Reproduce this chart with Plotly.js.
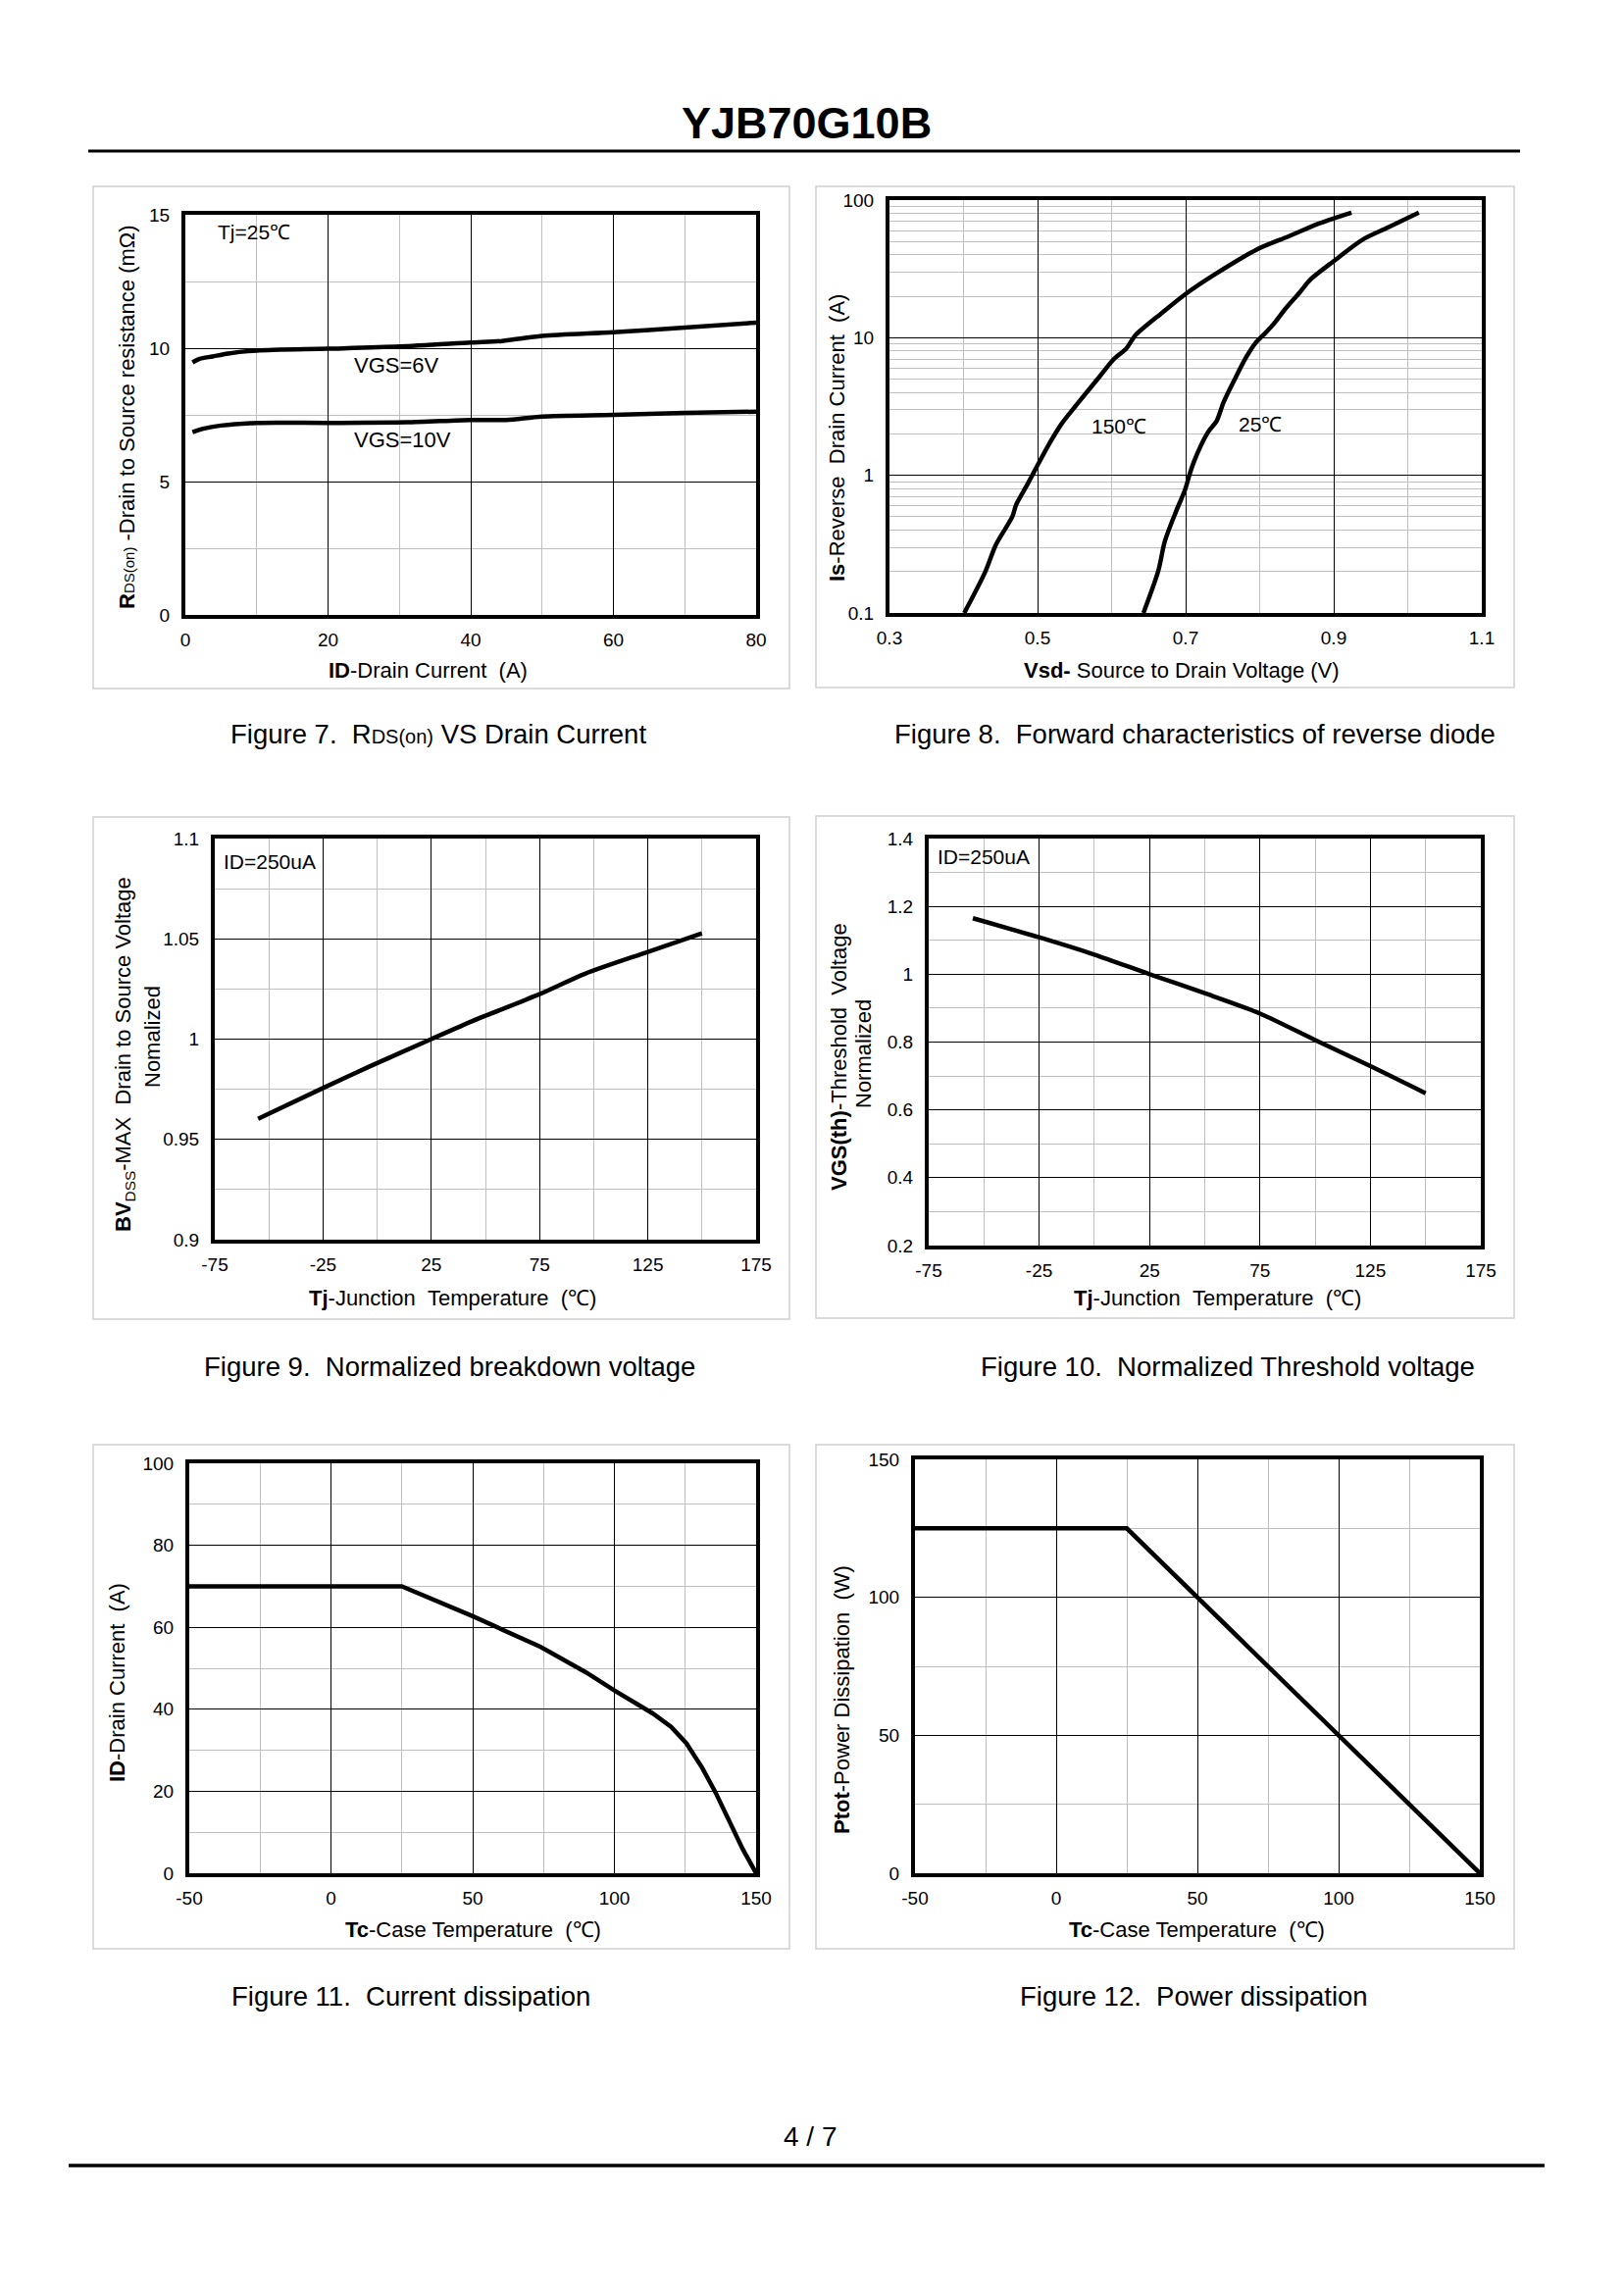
<!DOCTYPE html>
<html>
<head>
<meta charset="utf-8">
<script src="https://cdn.plot.ly/plotly-3.0.1.min.js"></script>
<style>
html,body{margin:0;padding:0;background:#fff;}
#chart{width:1656px;height:2339px;}
</style>
</head>
<body>
<div id="chart"></div>
<script>
// ---------- DATA ----------
// Figure 7: RDS(on) vs drain current
const f7_id_vgs6 = [1, 2, 3.8, 6, 10, 20, 30, 40, 44.4, 50, 60, 70, 80];
const f7_r_vgs6  = [9.47, 9.6, 9.69, 9.8, 9.91, 9.98, 10.06, 10.21, 10.27, 10.46, 10.6, 10.77, 10.96];
const f7_id_vgs10 = [1, 2.5, 5, 10, 20, 31, 40, 45, 50, 60, 70, 80];
const f7_r_vgs10  = [6.85, 6.98, 7.1, 7.2, 7.2, 7.22, 7.31, 7.31, 7.44, 7.5, 7.57, 7.62];
const f7_xticks = [0, 20, 40, 60, 80];
const f7_xminor = [10, 30, 50, 70];
const f7_yticks = [0, 5, 10, 15];
const f7_yminor = [2.5, 7.5, 12.5];

// Figure 8: forward characteristics of reverse diode
const f8_v_150 = [0.401,0.429,0.444,0.466,0.471,0.487,0.502,0.517,0.532,0.553,0.584,0.602,0.62,0.632,0.669,0.700,0.736,0.796,0.839,0.881,0.924];
const f8_i_150 = [0.1,0.197,0.315,0.502,0.61,0.873,1.24,1.74,2.35,3.27,5.24,6.9,8.36,10.4,15.3,20.8,28.1,43.7,54.5,67.9,81.1];
const f8_v_25 = [0.643,0.663,0.672,0.687,0.699,0.705,0.711,0.730,0.742,0.751,0.766,0.781,0.794,0.809,0.821,0.833,0.854,0.869,0.9,0.939,0.973,1.015];
const f8_i_25 = [0.1,0.202,0.333,0.546,0.78,1.0,1.25,2.05,2.49,3.37,4.95,7.1,9.1,11.0,13.0,15.8,21.3,26.6,36.0,51.6,63.2,81.1];
const f8_xticks = [0.3, 0.5, 0.7, 0.9, 1.1];
const f8_xlabels = ['0.3', '0.5', '0.7', '0.9', '1.1'];
const f8_xminor = [0.4, 0.6, 0.8, 1.0];
const f8_yticks = [0.1, 1, 10, 100];
const f8_ylabels = ['0.1', '1', '10', '100'];
const f8_yminor = [0.2,0.3,0.4,0.5,0.6,0.7,0.8,0.9,2,3,4,5,6,7,8,9,20,30,40,50,60,70,80,90];

// Figure 9: normalized breakdown voltage
const f9_t = [-55, -25, -3, 25, 44, 75, 96, 125, 150];
const f9_bv = [0.9603, 0.9756, 0.9866, 1.0, 1.009, 1.0224, 1.0326, 1.0435, 1.0528];
const tj_xticks = [-75, -25, 25, 75, 125, 175];
const tj_xminor = [-50, 0, 50, 100, 150];
const f9_yticks = [0.9, 0.95, 1, 1.05, 1.1];
const f9_ylabels = ['0.9', '0.95', '1', '1.05', '1.1'];
const f9_yminor = [0.925, 0.975, 1.025, 1.075];

// Figure 10: normalized threshold voltage
const f10_t = [-55, -25, 0, 25, 50, 75, 100, 125, 150];
const f10_vth = [1.165, 1.109, 1.058, 1.0, 0.944, 0.884, 0.806, 0.729, 0.649];
const f10_yticks = [0.2, 0.4, 0.6, 0.8, 1, 1.2, 1.4];
const f10_ylabels = ['0.2', '0.4', '0.6', '0.8', '1', '1.2', '1.4'];
const f10_yminor = [0.3, 0.5, 0.7, 0.9, 1.1, 1.3];

// Figure 11: current dissipation
const f11_t = [-50, 25, 50, 74, 90, 100, 113.5, 120, 125.4, 131, 135.7, 140.5, 145.2, 150];
const f11_id = [70, 70, 62.7, 55.2, 49, 44.6, 39, 35.7, 31.7, 25.7, 19.7, 12.9, 6.0, 0];
const tc_xticks = [-50, 0, 50, 100, 150];
const tc_xminor = [-25, 25, 75, 125];
const f11_yticks = [0, 20, 40, 60, 80, 100];
const f11_yminor = [10, 30, 50, 70, 90];

// Figure 12: power dissipation
const f12_t = [-50, 25, 150];
const f12_p = [125, 125, 0];
const f12_yticks = [0, 50, 100, 150];
const f12_yminor = [25, 75, 125];

// ---------- LAYOUT HELPERS ----------
const W = 1656, H = 2339;
const FONT = '"Liberation Sans", Arial, Helvetica, sans-serif';
const TICKSIZE = 19;

// plot frames in page pixels: [left, top, right, bottom]
const frames = {
  1: [187, 217, 773, 629],
  2: [905, 202, 1513, 627],
  3: [217, 853, 773, 1266],
  4: [945, 853, 1512, 1272],
  5: [191, 1490, 773, 1912],
  6: [931, 1486, 1511, 1912]
};

function axisBase(tv, tt, mv, standoff) {
  return {
    tickmode: 'array', tickvals: tv, ticktext: tt,
    showgrid: true, gridcolor: '#000000', gridwidth: 1,
    showline: true, mirror: true, linecolor: '#000000', linewidth: 4,
    zeroline: false, ticks: '', fixedrange: true,
    tickfont: {family: FONT, size: TICKSIZE, color: '#000'},
    ticklabelstandoff: standoff,
    minor: {tickmode: 'array', tickvals: mv, showgrid: true, gridcolor: '#c0c0c0', gridwidth: 1, ticks: ''}
  };
}
function xAxis(n, range, tv, tt, mv, extra) {
  const f = frames[n];
  return Object.assign(axisBase(tv, tt || tv.map(String), mv, 5), {
    domain: [(f[0] + 2) / W, (f[2] - 2) / W], range: range, anchor: 'y' + (n === 1 ? '' : n)
  }, extra || {});
}
function yAxis(n, range, tv, tt, mv, extra) {
  const f = frames[n];
  return Object.assign(axisBase(tv, tt || tv.map(String), mv, 8), {
    domain: [1 - (f[3] - 2) / H, 1 - (f[1] + 2) / H], range: range, anchor: 'x' + (n === 1 ? '' : n)
  }, extra || {});
}
function pa(text, xpx, ypx, size, opts) {
  return Object.assign({
    text: text, xref: 'paper', yref: 'paper', x: xpx / W, y: 1 - ypx / H,
    xanchor: 'center', yanchor: 'middle', showarrow: false,
    font: {family: FONT, size: size, color: '#000'}
  }, opts || {});
}
function da(text, n, x, y, size, xanchor) {
  const s = n === 1 ? '' : n;
  return {text: text, xref: 'x' + s, yref: 'y' + s, x: x, y: y, xanchor: xanchor || 'left', yanchor: 'middle',
          showarrow: false, font: {family: FONT, size: size, color: '#000'}};
}
function curve(x, y, n, smooth) {
  const s = n === 1 ? '' : n;
  const ln = {color: '#000', width: 4.5};
  if (smooth) { ln.shape = 'spline'; ln.smoothing = 0.8; }
  return {x: x, y: y, xaxis: 'x' + s, yaxis: 'y' + s, type: 'scatter', mode: 'lines',
          line: ln, hoverinfo: 'skip', showlegend: false};
}
function box(x0, y0, x1, y1) {
  return {type: 'rect', xref: 'paper', yref: 'paper', x0: x0 / W, x1: x1 / W, y0: 1 - y0 / H, y1: 1 - y1 / H,
          line: {color: '#d0d0d0', width: 1.5}, fillcolor: 'rgba(0,0,0,0)', layer: 'below'};
}
function hline(x0, x1, y, w) {
  return {type: 'line', xref: 'paper', yref: 'paper', x0: x0 / W, x1: x1 / W, y0: 1 - y / H, y1: 1 - y / H,
          line: {color: '#000', width: w}};
}

const data = [
  curve(f7_id_vgs6, f7_r_vgs6, 1, true),
  curve(f7_id_vgs10, f7_r_vgs10, 1, true),
  curve(f8_v_150, f8_i_150, 2, true),
  curve(f8_v_25, f8_i_25, 2, true),
  curve(f9_t, f9_bv, 3, true),
  curve(f10_t, f10_vth, 4, true),
  curve(f11_t, f11_id, 5, false),
  curve(f12_t, f12_p, 6, false)
];

const NB = '\u00a0';
const CAP = 27.5;
const annotations = [
  // page title & number
  pa('<b>YJB70G10B</b>', 822, 125, 45),
  pa('4 / 7', 826, 2178, 28),
  // in-plot labels
  da('Tj=25℃', 1, 4.2, 14.34, 21),
  da('VGS=6V', 1, 23.4, 9.35, 22),
  da('VGS=10V', 1, 23.4, 6.58, 22),
  da('150℃', 2, 0.6105, Math.log10(2.26), 21, 'center'),
  da('25℃', 2, 0.801, Math.log10(2.36), 21, 'center'),
  da('ID=250uA', 3, -71.9, 1.0884, 21),
  da('ID=250uA', 4, -71.9, 1.3456, 21),
  // x axis titles
  pa('<b>ID</b>-Drain Current' + NB + NB + '(A)', 436, 684, 22),
  pa('<b>Vsd-</b> Source to Drain Voltage (V)', 1205, 683, 22),
  pa('<b>Tj</b>-Junction' + NB + NB + 'Temperature' + NB + NB + '(℃)', 461, 1323, 22),
  pa('<b>Tj</b>-Junction' + NB + NB + 'Temperature' + NB + NB + '(℃)', 1241, 1323, 22),
  pa('<b>Tc</b>-Case Temperature' + NB + NB + '(℃)', 482, 1967, 22),
  pa('<b>Tc</b>-Case Temperature' + NB + NB + '(℃)', 1220, 1967, 22),
  // y axis titles
  pa('<b>R</b><span style="font-size:15px">DS(on)</span>' + NB + '-Drain to Source resistance' + NB + '(mΩ)', 130, 425, 22, {textangle: -90}),
  pa('<b>Is</b>-Reverse' + NB + NB + 'Drain Current' + NB + NB + '(A)', 853, 446, 22, {textangle: -90}),
  pa('<b>BV</b><sub>DSS</sub>-MAX' + NB + NB + 'Drain to Source Voltage', 127, 1075, 22, {textangle: -90}),
  pa('Nomalized', 155, 1057, 22, {textangle: -90}),
  pa('<b>VGS(th)</b>-Threshold' + NB + NB + 'Voltage', 855, 1077, 22, {textangle: -90}),
  pa('Normalized', 880, 1075, 22, {textangle: -90}),
  pa('<b>ID</b>-Drain Current' + NB + NB + '(A)', 119, 1716, 22, {textangle: -90}),
  pa('<b>Ptot</b>-Power Dissipation' + NB + NB + '(W)', 858, 1733, 22, {textangle: -90}),
  // captions
  pa('Figure 7.' + NB + NB + 'R<span style="font-size:20px">DS(on)</span> VS Drain Current', 447, 748, CAP),
  pa('Figure 8.' + NB + NB + 'Forward characteristics of reverse diode', 1218, 748, CAP),
  pa('Figure 9.' + NB + NB + 'Normalized breakdown voltage', 458, 1393, CAP),
  pa('Figure 10.' + NB + NB + 'Normalized Threshold voltage', 1252, 1393, CAP),
  pa('Figure 11.' + NB + NB + 'Current dissipation', 419, 2035, CAP),
  pa('Figure 12.' + NB + NB + 'Power dissipation', 1217, 2035, CAP)
];

const shapes = [
  hline(90, 1550, 154, 3),
  hline(70, 1575, 2208, 3.5),
  box(95, 190, 805, 702),
  box(832, 190, 1544, 701),
  box(95, 833, 805, 1345),
  box(832, 832, 1544, 1344),
  box(95, 1473, 805, 1987),
  box(832, 1473, 1544, 1987)
];

const layout = {
  width: W, height: H,
  margin: {l: 0, r: 0, t: 0, b: 0, pad: 0},
  paper_bgcolor: '#ffffff', plot_bgcolor: '#ffffff',
  showlegend: false,
  font: {family: FONT, color: '#000'},
  xaxis:  xAxis(1, [0, 80], f7_xticks, null, f7_xminor),
  yaxis:  yAxis(1, [0, 15], f7_yticks, null, f7_yminor),
  xaxis2: xAxis(2, [0.3, 1.1], f8_xticks, f8_xlabels, f8_xminor),
  yaxis2: yAxis(2, [-1, 2], f8_yticks, f8_ylabels, f8_yminor, {type: 'log'}),
  xaxis3: xAxis(3, [-75, 175], tj_xticks, null, tj_xminor),
  yaxis3: yAxis(3, [0.9, 1.1], f9_yticks, f9_ylabels, f9_yminor),
  xaxis4: xAxis(4, [-75, 175], tj_xticks, null, tj_xminor),
  yaxis4: yAxis(4, [0.2, 1.4], f10_yticks, f10_ylabels, f10_yminor),
  xaxis5: xAxis(5, [-50, 150], tc_xticks, null, tc_xminor),
  yaxis5: yAxis(5, [0, 100], f11_yticks, null, f11_yminor),
  xaxis6: xAxis(6, [-50, 150], tc_xticks, null, tc_xminor),
  yaxis6: yAxis(6, [0, 150], f12_yticks, null, f12_yminor),
  annotations: annotations,
  shapes: shapes
};

Plotly.newPlot('chart', data, layout, {staticPlot: true, displayModeBar: false});
</script>
</body>
</html>
